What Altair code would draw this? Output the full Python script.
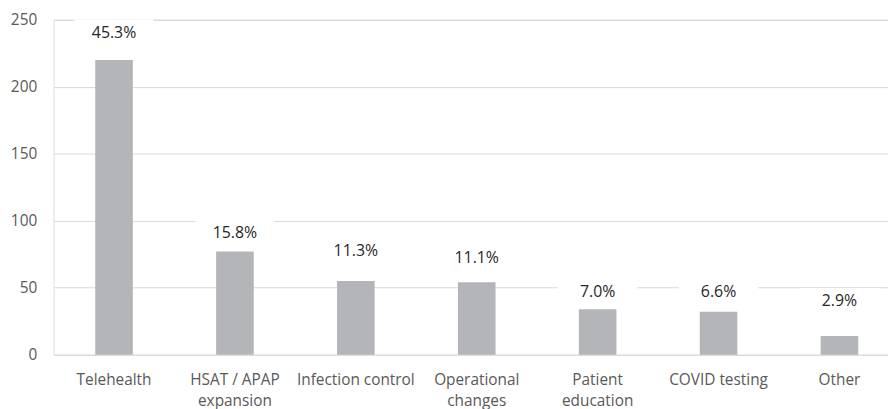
import altair as alt
import pandas as pd

# Categories (| marks the line break used in the axis label)
categories = ["Telehealth", "HSAT / APAP|expansion", "Infection control",
              "Operational|changes", "Patient|education", "COVID testing", "Other"]
counts = [220, 77, 55, 54, 34, 32, 14]
pct_labels = ["45.3%", "15.8%", "11.3%", "11.1%", "7.0%", "6.6%", "2.9%"]
# height (in data units) at which each percentage label sits
label_heights = [240.4, 91, 77, 72.5, 46.6, 46.6, 40]
y_ticks = [0, 50, 100, 150, 200, 250]

df = pd.DataFrame({"cat": categories, "count": counts,
                   "pct": pct_labels, "ly": label_heights})

FONT = "Open Sans"
x_enc = alt.X("cat:N", sort=categories,
              scale=alt.Scale(range=[0, 854], paddingInner=0.689, paddingOuter=0.3445),
              axis=alt.Axis(title=None, domain=False, ticks=False, labelAngle=0,
                            labelAlign="center",
                            labelExpr="split(datum.value, '|')",
                            labelFont=FONT, labelFontSize=15.5, labelColor="#595959",
                            labelPadding=18, labelLineHeight=21, labelBaseline="top"))

y_scale = alt.Scale(domain=[0, 250], nice=False)

bars = alt.Chart(df).mark_bar(color="#b4b5b8").encode(
    x=x_enc,
    y=alt.Y("count:Q", scale=y_scale,
            axis=alt.Axis(title=None, values=y_ticks, domain=False, ticks=False,
                          grid=True, gridColor="#d9d9d9", gridWidth=1,
                          labelFont=FONT, labelFontSize=15.5, labelColor="#595959",
                          labelPadding=17)),
)

boxes = alt.Chart(df).mark_point(
    shape="M-1,-0.33H1V0.33H-1Z", filled=True, color="white", opacity=1, size=6400
).encode(x=alt.X("cat:N", sort=categories), y=alt.Y("ly:Q", scale=y_scale))

text = alt.Chart(df).mark_text(font=FONT, fontSize=16, color="#262626",
                               baseline="middle", align="center").encode(
    x=alt.X("cat:N", sort=categories), y=alt.Y("ly:Q", scale=y_scale), text="pct:N")

chart = alt.layer(boxes, bars, text).properties(
    width=842, height=338,
    autosize=alt.AutoSizeParams(type="none"),
    padding={"left": 46, "top": 10, "right": 0, "bottom": 56},
).configure_view(stroke=None).configure(background="white")

chart.save("out.html", embed_options={"renderer": "svg", "actions": False})
